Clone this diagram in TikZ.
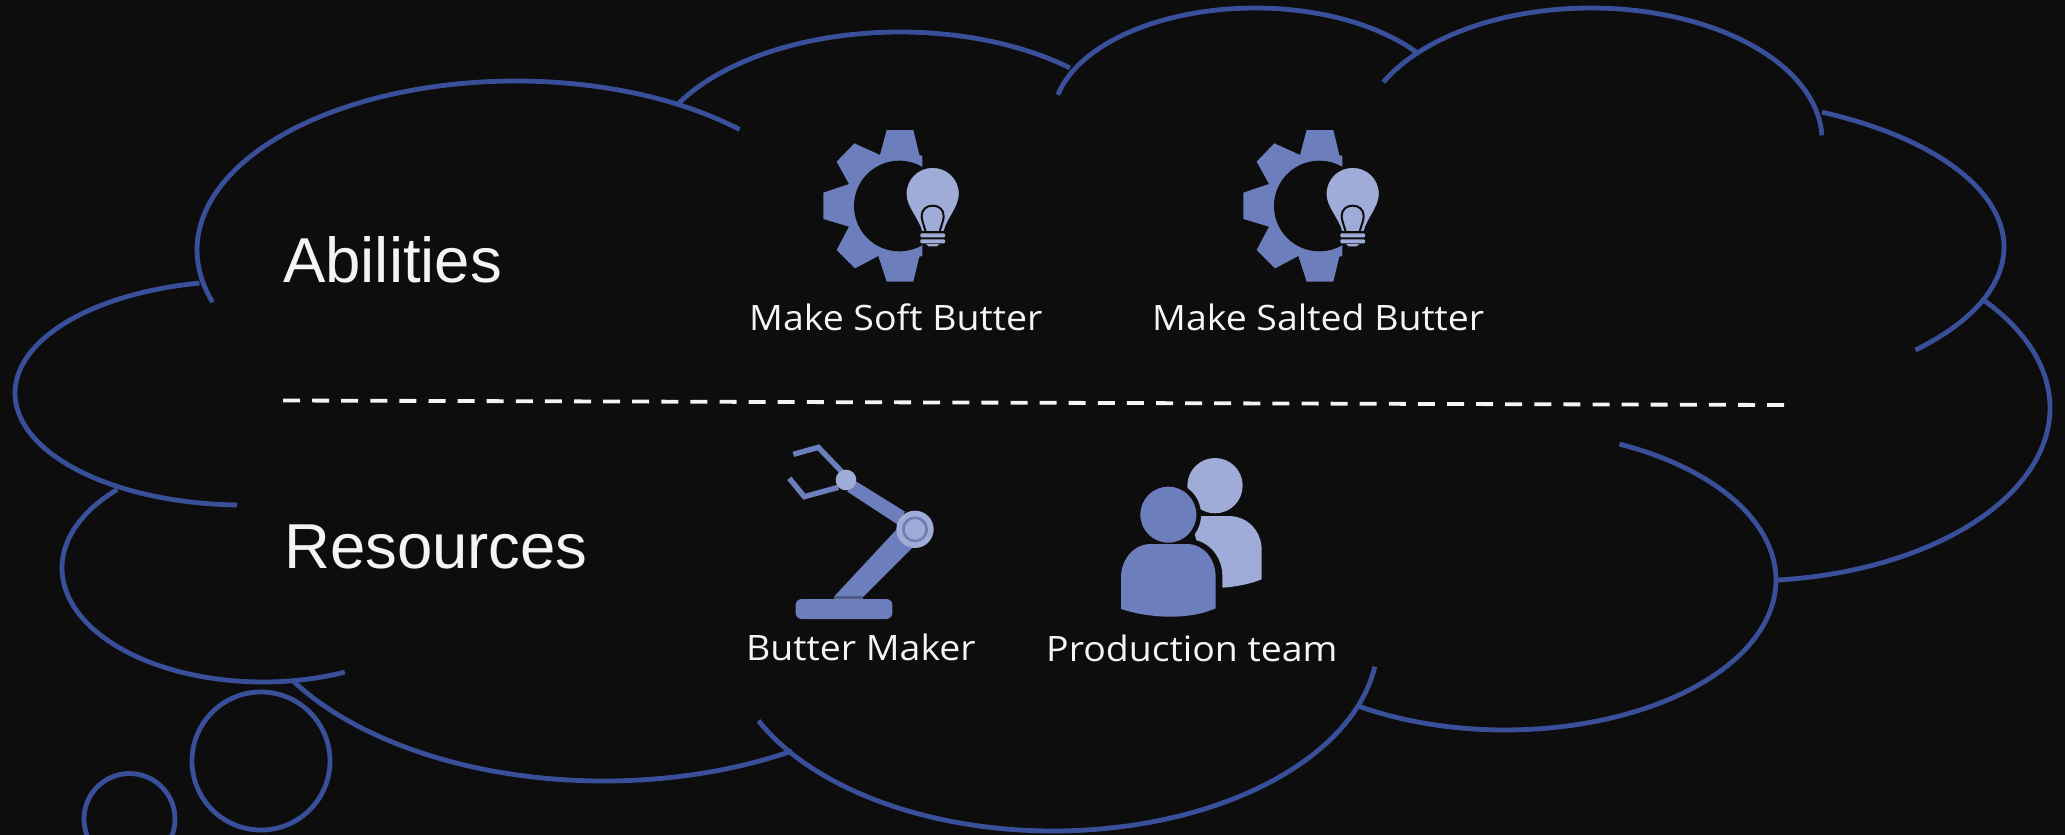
\documentclass[tikz,border=0pt]{standalone}
\usepackage{fontspec}
\setmainfont{Liberation Sans}
\newfontfamily\labelfont[FakeStretch=1.07]{Open Sans}
\definecolor{bgc}{HTML}{0D0D0D}
\definecolor{cloudc}{HTML}{3A4F9A}
\definecolor{iconm}{HTML}{6C7EBB}
\definecolor{iconl}{HTML}{A0ACD8}
\definecolor{txt}{HTML}{F4F4F4}
\newcommand\cloudarc[6]{\draw[cloudline] plot[domain=#5:#6,samples=80] ({#1+#3*cos(\x)},{#2+#4*sin(\x)});}
\newcommand\gearicon[2]{%
\begin{scope}[shift={(#1,#2)},x=.33333pt,y=-.33333pt]
\fill[iconm] (320,60)--(400,60)--(418,135)--(427,138)--(427,438)--(418,440)--(400,515)--(320,515)--(295,438)--(225,475)--(170,420)--(207,350)--(130,327)--(130,248)--(207,222)--(170,155)--(223,100)--(300,135)--cycle;
\fill[bgc] (358,288) circle[radius=136];
\fill[iconl,draw=bgc,line width=1pt] (425,365) .. controls (415,325) and (378,292) .. (378,252) .. controls (378,205) and (415,172) .. (458,172) .. controls (501,172) and (538,205) .. (538,252) .. controls (538,292) and (502,325) .. (492,365) -- cycle;
\draw[bgc,line width=2pt] (437,365) .. controls (430,340) and (425,330) .. (425,318) .. controls (425,298) and (440,287) .. (458,287) .. controls (476,287) and (491,298) .. (491,318) .. controls (491,330) and (486,340) .. (479,365);
\fill[iconl,rounded corners=1pt] (421,370) rectangle (495,382);
\fill[iconl,rounded corners=1pt] (421,388) rectangle (495,400);
\fill[iconl] (438,402) -- (478,402) -- (470,409) -- (446,409) -- cycle;
\end{scope}}
\tikzset{
 cloudline/.style={draw=cloudc,line width=4.8pt,line join=round},
 headtext/.style={anchor=base west,text=txt,inner sep=0pt,font=\fontsize{63.5}{70}\selectfont},
 itemtext/.style={anchor=base west,text=txt,inner sep=0pt,font=\labelfont\fontsize{35}{40}\selectfont}
}
\begin{document}
\begin{tikzpicture}[x=1pt,y=-1pt]
\useasboundingbox (0,0) rectangle (2065,835);
\fill[bgc] (0,0) rectangle (2065,835);
\clip (0,0) rectangle (2065,835);
% cloud
\cloudarc{516}{250}{319}{169}{162}{314.5}
\cloudarc{900}{172}{254}{140}{208.6}{312}
\cloudarc{1255}{119}{202}{111}{192.6}{323}
\cloudarc{1591}{140}{231}{132}{206}{358}
\cloudarc{1680}{247}{324}{150}{-64}{43.4}
\cloudarc{1746}{408}{304}{173}{-39}{84}
\cloudarc{1505}{580}{271}{150}{-65}{123}
\cloudarc{1053}{640}{325}{191}{8}{155}
\cloudarc{604}{571}{365}{210}{59}{148.7}
\cloudarc{263}{568}{201}{114}{66}{223.5}
\cloudarc{243}{393}{228}{112}{91.5}{259}
% thought bubbles
\draw[cloudline] (261,761) circle[radius=69];
\draw[cloudline] (129.5,819) circle[radius=45.5];
% separator
\coordinate (sepa) at (283,400.5);
\coordinate (sepb) at (1785,405);
\draw[draw=txt,line width=3.8pt,dash pattern=on 17pt off 12.1pt] (sepa) -- (sepb);
% gears
\gearicon{780}{110}
\gearicon{1200}{110}
% robot
\begin{scope}[shift={(760,430)},x=.33333pt,y=-.33333pt]
\draw[iconm,line width=5.4pt,line join=miter] (100,73)--(175,52)--(245,125);
\draw[iconm,line width=5.4pt,line join=miter] (88,145)--(133,200)--(235,172);
\fill[iconm] (262,185)--(285,152)--(435,245)--(415,285)--cycle;
\fill[iconm] (222,500)--(310,500)--(470,340)--(410,298)--cycle;
\fill[iconm,rounded corners=6pt] (107,507) rectangle (397,567);
\fill[iconm!70!bgc] (222,498) rectangle (310,507);
\fill[iconl] (258,150) circle[radius=31];
\fill[iconl] (465,298) circle[radius=56];
\draw[iconm!85!gray,line width=2.6pt] (465,298) circle[radius=35];
\end{scope}
% people
\begin{scope}[shift={(1100,440)},x=.33333pt,y=-.33333pt]
\fill[iconl] (345,137) circle[radius=83];
\fill[iconl] (270,228) -- (385,228) .. controls (445,228) and (485,275) .. (485,330) -- (485,418) .. controls (450,432) and (410,440) .. (367,443) -- (320,420) -- cycle;
\fill[bgc] (205,224) circle[radius=98];
\fill[bgc] (48,525) -- (48,410) .. controls (48,345) and (95,297) .. (150,297) -- (260,297) .. controls (320,297) and (367,345) .. (367,410) -- (367,525) -- cycle;
\fill[iconm] (205,224) circle[radius=84];
\fill[iconm] (63,507) -- (63,412) .. controls (63,355) and (105,312) .. (150,312) -- (260,312) .. controls (310,312) and (347,355) .. (347,412) -- (347,505) .. controls (300,525) and (255,530) .. (210,530) .. controls (160,530) and (110,522) .. (63,507) -- cycle;
\end{scope}
% text
\node[headtext] (abilities) at (283,282) {Abilities};
\node[headtext] (resources) at (284,568) {Resources};
\node[itemtext] (soft) at (749,330) {Make Soft Butter};
\node[itemtext] (salted) at (1152,330) {Make Salted Butter};
\node[itemtext] (maker) at (746,660.5) {Butter Maker};
\node[itemtext] (team) at (1046,661) {Production team};
\end{tikzpicture}
\end{document}
